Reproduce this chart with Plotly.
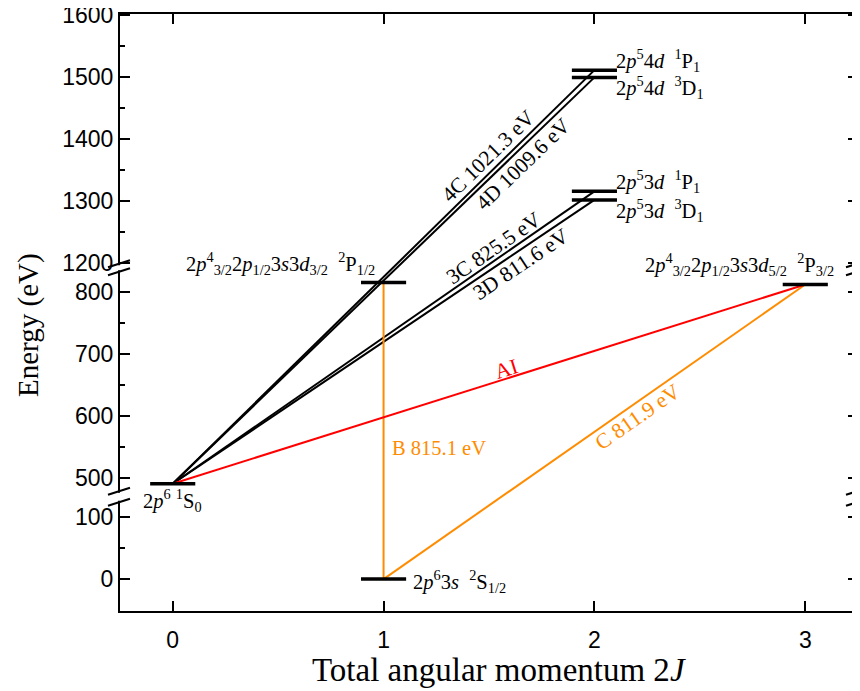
import math
import plotly.graph_objects as go

# ---------------- data ----------------
level_J = [0, 1, 1, 3, 2, 2, 2, 2]
level_E = [490.0, 0.0, 815.1, 811.9, 1315.5, 1301.6, 1511.3, 1499.6]
level_labels = [
    "2<i>p</i><sup>6</sup>\u00a0<sup>1</sup>S<sub>0</sub>",
    "2<i>p</i><sup>6</sup>3<i>s</i>\u00a0\u00a0<sup>2</sup>S<sub>1/2</sub>",
    "2<i>p</i><sup>4</sup><sub>3/2</sub>2<i>p</i><sub>1/2</sub>3<i>s</i>3<i>d</i><sub>3/2</sub>\u00a0\u00a0<sup>2</sup>P<sub>1/2</sub>",
    "2<i>p</i><sup>4</sup><sub>3/2</sub>2<i>p</i><sub>1/2</sub>3<i>s</i>3<i>d</i><sub>5/2</sub>\u00a0\u00a0<sup>2</sup>P<sub>3/2</sub>",
    "2<i>p</i><sup>5</sup>3<i>d</i>\u00a0\u00a0<sup>1</sup>P<sub>1</sub>",
    "2<i>p</i><sup>5</sup>3<i>d</i>\u00a0\u00a0<sup>3</sup>D<sub>1</sub>",
    "2<i>p</i><sup>5</sup>4<i>d</i>\u00a0\u00a0<sup>1</sup>P<sub>1</sub>",
    "2<i>p</i><sup>5</sup>4<i>d</i>\u00a0\u00a0<sup>3</sup>D<sub>1</sub>",
]

trans_from = [0, 0, 0, 0, 1, 1, 0]
trans_to = [6, 7, 4, 5, 2, 3, 3]
trans_labels = ["4C 1021.3 eV", "4D 1009.6 eV", "3C 825.5 eV", "3D 811.6 eV",
                "B 815.1 eV", "C 811.9 eV", "AI"]
trans_colors = ["black", "black", "black", "black", "#FF8C00", "#FF8C00", "#FF0000"]

x_ticks = [0, 1, 2, 3]
y_ticks = [0, 100, 500, 600, 700, 800, 1200, 1300, 1400, 1500, 1600]
y_minor = [50, 550, 650, 750, 1250, 1350, 1450, 1550]

# ---------------- broken axis ----------------
seg_lo = [-51.6, 469.0, 1192.0]
seg_hi = [133.0, 839.0, 1602.0]


def to_disp(E):
    start = seg_lo[0]
    for lo, hi in zip(seg_lo, seg_hi):
        if E <= hi:
            return start + (E - lo)
        start += hi - lo
    return start


breaks = []
acc = seg_lo[0]
for lo, hi in zip(seg_lo[:-1], seg_hi[:-1]):
    acc += hi - lo
    breaks.append(acc)
y_range = [seg_lo[0], to_disp(seg_hi[-1])]
x_range = [-0.25, 3.25]

# page body has an 8px margin; size the figure so the plot lands where it should
OFF = 8
W, H = 860 - OFF, 691 - OFF
ML, MR, MT, MB = 120 - OFF, 2, 14 - OFF, 80
PW, PH = W - ML - MR, H - MT - MB
sx = PW / (x_range[1] - x_range[0])
sy = PH / (y_range[1] - y_range[0])

SERIF = "Liberation Serif"
SANS = "Liberation Sans"

fig = go.Figure()

# transitions
for f, t, c in zip(trans_from, trans_to, trans_colors):
    fig.add_trace(go.Scatter(
        x=[level_J[f], level_J[t]],
        y=[to_disp(level_E[f]), to_disp(level_E[t])],
        mode="lines", line=dict(color=c, width=2), hoverinfo="skip"))

# levels
HW = 0.107
for J, E in zip(level_J, level_E):
    fig.add_trace(go.Scatter(
        x=[J - HW, J + HW], y=[to_disp(E), to_disp(E)],
        mode="lines", line=dict(color="black", width=3.5), hoverinfo="skip"))

annotations = []

# transition labels: (fraction along line, perpendicular offset px)
trans_pos = [(0.77, 13.0), (0.81, -12.5), (0.776, 10.5), (0.81, -12.5),
             (0.442, None), (0.585, -13.0), (0.532, 9.0)]
for i, (f, t) in enumerate(zip(trans_from, trans_to)):
    x0, y0 = level_J[f], to_disp(level_E[f])
    x1, y1 = level_J[t], to_disp(level_E[t])
    frac, off = trans_pos[i]
    xm = x0 + frac * (x1 - x0)
    ym = y0 + frac * (y1 - y0)
    col = trans_colors[i]
    if off is None:
        annotations.append(dict(x=xm, y=ym, xref="x", yref="y", text=trans_labels[i],
                                showarrow=False, xanchor="left", yanchor="middle",
                                xshift=6, font=dict(family=SERIF, size=20.5, color=col)))
        continue
    ang = math.atan2((y1 - y0) * sy, (x1 - x0) * sx)
    annotations.append(dict(
        x=xm, y=ym, xref="x", yref="y", text=trans_labels[i], showarrow=False,
        xanchor="center", yanchor="middle", textangle=-math.degrees(ang),
        xshift=-off * math.sin(ang), yshift=off * math.cos(ang),
        font=dict(family=SERIF, size=21.5, color=col)))

# level labels: (x offset in data units, xanchor, yshift px)
lab_pos = [
    (0.0, "center", -16.5),
    (0.132, "left", -2.0),
    (-0.033, "right", 19.5),
    (0.145, "right", 20.0),
    (0.093, "left", 10.0),
    (0.093, "left", -10.5),
    (0.093, "left", 10.0),
    (0.093, "left", -10.5),
]
for (J, E, txt), (dx, xa, ys) in zip(zip(level_J, level_E, level_labels), lab_pos):
    annotations.append(dict(x=J + dx, y=to_disp(E), xref="x", yref="y", text=txt,
                            showarrow=False, xanchor=xa, yanchor="middle", yshift=ys,
                            font=dict(family=SERIF, size=20.5, color="black")))

# axis titles (page pixel positions converted to paper fractions)
annotations.append(dict(x=(498.5 - OFF - ML) / PW, y=0, xref="paper", yref="paper",
                        text="Total angular momentum 2<i>J</i>", showarrow=False,
                        xanchor="center", yanchor="middle", yshift=-59,
                        font=dict(family=SERIF, size=33, color="black")))
annotations.append(dict(x=(28 - OFF - ML) / PW, y=(H - MB - (325 - OFF)) / PH,
                        xref="paper", yref="paper",
                        text="Energy (eV)", showarrow=False, textangle=-90,
                        xanchor="center", yanchor="middle",
                        font=dict(family=SERIF, size=29, color="black")))

# axis breaks
shapes = []
for side in (0, 1):
    for b, half in zip(breaks, (5.5, 4.0)):
        shapes.append(dict(type="rect", xref="paper", yref="y", xsizemode="pixel",
                           ysizemode="pixel", xanchor=side, yanchor=b,
                           x0=-4, x1=4, y0=-half + 1.5, y1=half - 1.5,
                           fillcolor="white", line=dict(width=0), layer="above"))
        for s in (-half, half):
            shapes.append(dict(type="line", xref="paper", yref="y", xsizemode="pixel",
                               ysizemode="pixel", xanchor=side, yanchor=b,
                               x0=-12, x1=10, y0=s - 3.5, y1=s + 3.5,
                               line=dict(color="black", width=2), layer="above"))

fig.update_layout(
    width=W, height=H, margin=dict(l=ML, r=MR, t=MT, b=MB, autoexpand=False),
    paper_bgcolor="white", plot_bgcolor="white", showlegend=False,
    annotations=annotations, shapes=shapes,
    xaxis=dict(range=x_range, tickvals=x_ticks, ticktext=[str(v) for v in x_ticks],
               ticks="inside", ticklen=10, tickwidth=2, tickcolor="black",
               showline=True, linewidth=2, linecolor="black", mirror="ticks",
               showgrid=False, zeroline=False, ticklabelstandoff=7,
               tickfont=dict(family=SANS, size=23, color="black")),
    yaxis=dict(range=y_range, tickvals=[to_disp(v) for v in y_ticks],
               ticktext=[str(v) for v in y_ticks],
               ticks="inside", ticklen=10, tickwidth=2, tickcolor="black",
               minor=dict(tickvals=[to_disp(v) for v in y_minor], ticks="inside",
                          ticklen=5, tickwidth=2, tickcolor="black", showgrid=False),
               showline=True, linewidth=2, linecolor="black", mirror="ticks",
               showgrid=False, zeroline=False, ticklabelstandoff=0,
               ticklabeloverflow="allow",
               tickfont=dict(family=SANS, size=23, color="black")),
)

fig.write_html("out.html")
